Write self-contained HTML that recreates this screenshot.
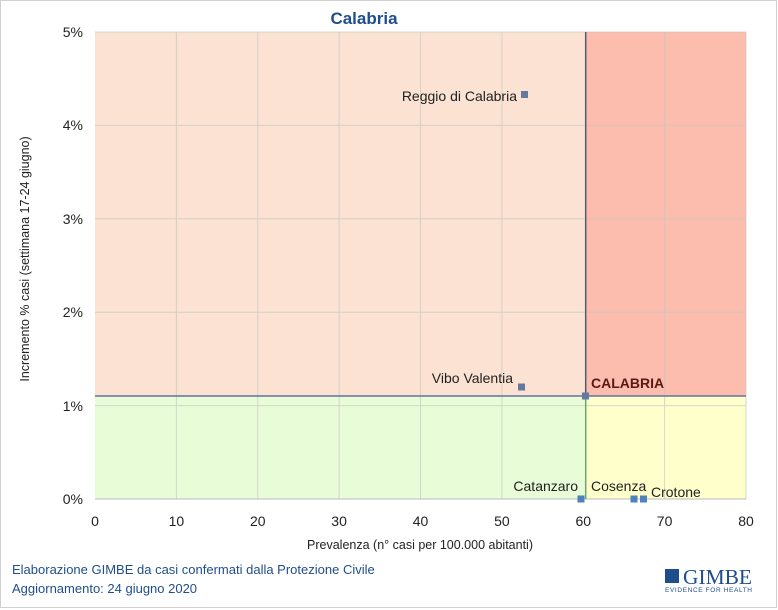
<!DOCTYPE html>
<html><head><style>body{margin:0;background:#fff}svg{display:block;font-family:"Liberation Sans",sans-serif}</style></head><body>
<svg width="778" height="610" viewBox="0 0 778 610">
<rect x="0.5" y="0.5" width="776" height="607" fill="#fff" stroke="#d0d0d0"/>
<text x="364" y="24" font-size="17" font-weight="bold" fill="#1f4e8c" text-anchor="middle">Calabria</text>
<rect x="95" y="32" width="490.7" height="364" fill="#fbe2d2"/>
<rect x="585.7" y="32" width="160.3" height="364" fill="#fcbcae"/>
<rect x="95" y="396" width="490.7" height="103" fill="#e8fcd8"/>
<rect x="585.7" y="396" width="160.3" height="103" fill="#ffffcc"/>
<g stroke="#c8c8c0" stroke-width="1" opacity="0.7">
<line x1="176.4" y1="32" x2="176.4" y2="499"/><line x1="257.8" y1="32" x2="257.8" y2="499"/><line x1="339.1" y1="32" x2="339.1" y2="499"/><line x1="420.5" y1="32" x2="420.5" y2="499"/><line x1="501.9" y1="32" x2="501.9" y2="499"/><line x1="664.6" y1="32" x2="664.6" y2="499"/><line x1="746" y1="32" x2="746" y2="499"/>
<line x1="95" y1="32" x2="746" y2="32"/><line x1="95" y1="125.4" x2="746" y2="125.4"/><line x1="95" y1="218.8" x2="746" y2="218.8"/><line x1="95" y1="312.2" x2="746" y2="312.2"/><line x1="95" y1="405.6" x2="746" y2="405.6"/>
</g>
<line x1="95" y1="499" x2="746" y2="499" stroke="#bbb"/>
<line x1="585.7" y1="32" x2="585.7" y2="396" stroke="#555c70" stroke-width="1.5"/>
<line x1="585.7" y1="396" x2="585.7" y2="499" stroke="#6aa86a" stroke-width="1.5"/>
<line x1="95" y1="396" x2="746" y2="396" stroke="#6472a0" stroke-width="1.5"/>
<g fill="#6478a0">
<rect x="521" y="91" width="7" height="7"/><rect x="518" y="383.5" width="7" height="7"/><rect x="582" y="392.5" width="7" height="7"/>
</g>
<g fill="#4f81bd"><rect x="577.5" y="495.5" width="7" height="7"/><rect x="630.5" y="495.5" width="7" height="7"/><rect x="640" y="495.5" width="7" height="7"/></g>
<g font-size="14" fill="#222">
<text x="517" y="101" text-anchor="end">Reggio di Calabria</text>
<text x="513" y="383" text-anchor="end">Vibo Valentia</text>
<text x="578" y="491" text-anchor="end">Catanzaro</text>
<text x="591" y="491">Cosenza</text>
<text x="651" y="497">Crotone</text>
</g>
<text x="591" y="388" font-size="14" font-weight="bold" fill="#5a1a14">CALABRIA</text>
<g font-size="14" fill="#222" text-anchor="end">
<text x="83" y="37">5%</text><text x="83" y="130">4%</text><text x="83" y="224">3%</text><text x="83" y="317">2%</text><text x="83" y="411">1%</text><text x="83" y="504">0%</text>
</g>
<g font-size="14" fill="#222" text-anchor="middle">
<text x="95" y="526">0</text><text x="176.4" y="526">10</text><text x="257.8" y="526">20</text><text x="339.1" y="526">30</text><text x="420.5" y="526">40</text><text x="501.9" y="526">50</text><text x="583.3" y="526">60</text><text x="664.6" y="526">70</text><text x="746" y="526">80</text>
</g>
<text x="420" y="549" font-size="12.5" fill="#222" text-anchor="middle">Prevalenza  (n° casi per 100.000 abitanti)</text>
<text transform="translate(29,259) rotate(-90)" font-size="12.5" fill="#222" text-anchor="middle">Incremento % casi (settimana 17-24 giugno)</text>
<text x="12" y="574" font-size="13" fill="#1f4e8c">Elaborazione GIMBE da casi confermati dalla Protezione Civile</text>
<text x="12" y="593" font-size="13" fill="#1f4e8c">Aggiornamento: 24 giugno 2020</text>
<rect x="665" y="569" width="14" height="14" fill="#1f4e8c"/>
<text x="683" y="584" font-size="21" font-family="Liberation Serif,serif" fill="#1f4e8c" textLength="69" lengthAdjust="spacingAndGlyphs">GIMBE</text>
<text x="665" y="592" font-size="6.5" fill="#1f4e8c" textLength="87" lengthAdjust="spacing">EVIDENCE FOR HEALTH</text>
</svg>
</body></html>
